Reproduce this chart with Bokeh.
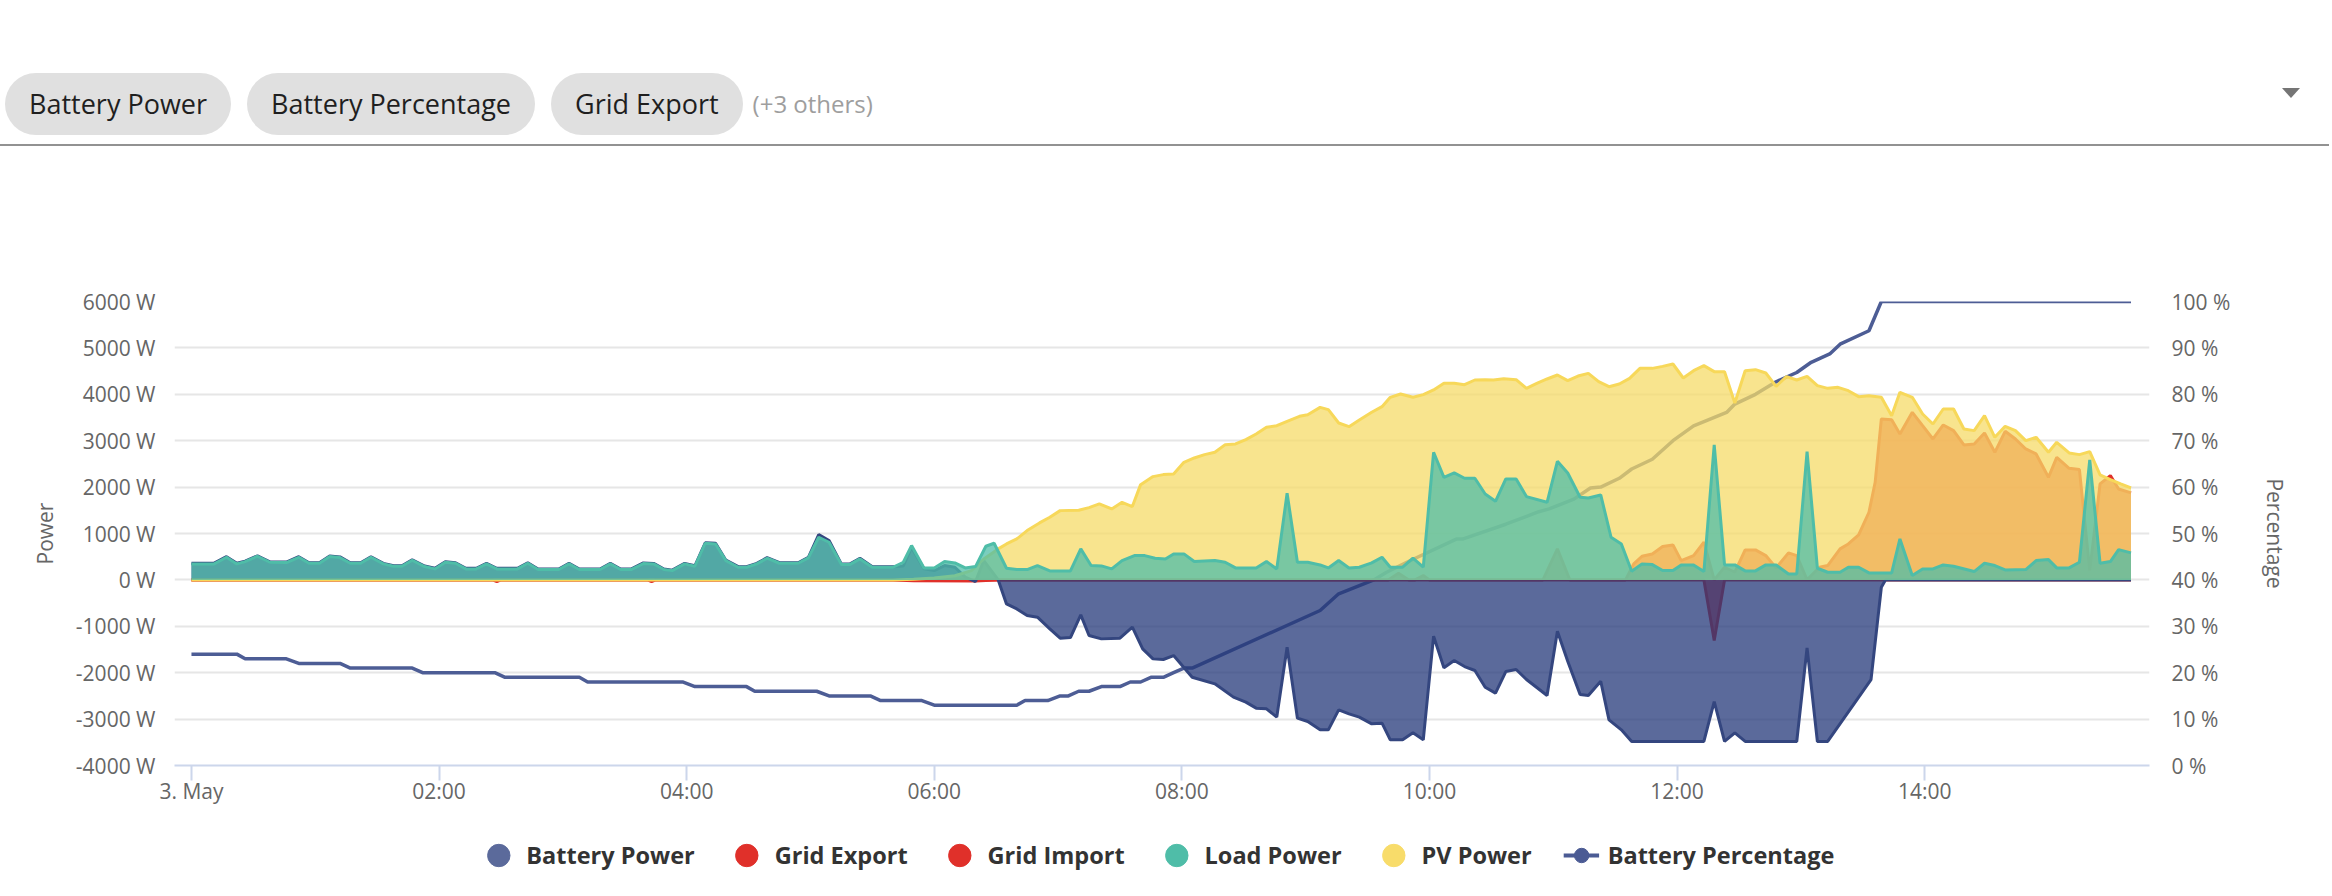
from bokeh.plotting import figure
from bokeh.models import Range1d, LinearAxis, FixedTicker, Legend, LegendItem, Div
from bokeh.layouts import column, row
from bokeh.embed import file_html
from bokeh.resources import INLINE

# ---------------- data (time = minutes after midnight, 3 May) ----------------
load_t = [0, 11, 17, 22, 26, 32, 38, 46, 52, 57, 62, 67, 72, 77, 82, 87, 93, 98, 102, 107, 113, 118, 123, 128,
          133, 138, 143, 148, 158, 163, 168, 178, 183, 188, 198, 203, 208, 213, 219, 224, 229, 233,
          239, 244, 249, 254, 259, 265, 269, 274, 279, 285, 294, 299, 304, 309, 315, 319, 324, 330, 340, 345,
          349, 355, 360, 365, 370, 375, 380, 385, 389, 395, 400, 405, 410, 416, 426, 431, 436, 441, 446, 451,
          457, 462, 467, 472, 476,
          481, 486, 496, 501, 506, 516, 521, 526, 531, 536, 541, 547, 551, 556, 561, 566, 572, 577, 581, 587,
          592, 597, 602, 607, 612, 617, 622, 627, 632, 637, 642, 647, 657, 662, 667, 673, 677, 683, 688, 693,
          698, 703, 708, 713, 718,
          722, 728, 733, 738, 743, 748, 753, 758, 763, 768, 774, 778, 783, 788, 793, 799, 803, 808, 813, 824,
          828, 834, 839, 844, 849, 854, 864, 869, 874, 879, 889, 894, 900, 904, 910, 915, 920, 925, 930, 934, 940]
load_w = [345, 345, 488, 345, 395, 510, 380, 373, 488, 359, 359, 503, 481, 359, 359, 488, 345, 294, 294, 424, 287, 237, 380, 359,
          237, 237, 345, 237, 237, 359, 223, 223, 345, 223, 223, 345, 223, 223, 352, 345, 223, 200,
          345, 294, 790, 775, 416, 273, 273, 345, 467, 359, 359, 474, 919, 811, 330, 330, 452, 273, 273, 380,
          740, 258, 258, 395, 366, 258, 287, 725, 790, 251, 223, 223, 309, 194, 194, 668, 309, 302, 237, 416,
          524, 524, 467, 452, 560,
          560, 395, 416, 380, 258, 258, 395, 237, 1867, 380, 380, 323, 258, 416, 258, 273, 366, 488, 273, 273,
          467, 273, 2750, 2211, 2305, 2190, 2190, 1852, 1694, 2175, 2175, 1795, 1673, 2556, 2305, 1781, 1766, 1831, 919, 775,
          187, 345, 330, 201, 201,
          323, 323, 180, 2908, 323, 323, 194, 194, 323, 323, 129, 129, 2764, 251, 165, 165, 273, 273, 151, 151,
          883, 93, 237, 237, 323, 294, 180, 359, 309, 215, 223, 416, 438, 258, 258, 380, 2585, 359, 395, 653, 582]

pv_t = [0, 340, 350, 360, 370, 378, 384, 391, 395, 400, 405, 411, 416, 421, 430, 435, 440, 446, 451, 456, 460, 466, 471, 476,
        481, 486, 491, 496, 501, 506, 511, 516, 521, 526, 531, 537, 541, 547, 551, 556, 561, 566, 572, 577,
        581, 586, 592, 597, 602, 607, 612, 617, 622, 627, 631, 636, 642, 647, 652, 657, 662, 667, 672, 677,
        682, 687, 692, 697, 702, 708, 713, 718,
        723, 728, 733, 738, 743, 748, 753, 758, 763, 768, 773, 778, 783, 788, 793, 798, 803, 808, 813, 819,
        824, 828, 834, 839, 844, 849, 854, 859, 864, 869, 874, 879, 884, 889, 894, 900, 904, 910, 915, 920,
        925, 930, 935, 940]
pv_w = [0, 0, 15, 40, 90, 200, 450, 668, 775, 883, 1063, 1228, 1350, 1493, 1500, 1558, 1637, 1529, 1673, 1580, 2053, 2226, 2269, 2280,
        2535, 2628, 2700, 2750, 2915, 2930, 3023, 3145, 3289, 3324, 3418, 3525, 3561, 3719, 3669, 3382, 3303, 3446, 3612, 3734,
        3935, 4006, 3935, 3992, 4093, 4236, 4236, 4207, 4308, 4315, 4308, 4337, 4315, 4128, 4236, 4330, 4416, 4294, 4394, 4452,
        4272, 4164, 4222, 4344, 4559, 4559, 4602, 4653,
        4351, 4509, 4617, 4488, 4488, 3813, 4509, 4531, 4459, 4172, 4380, 4308, 4387, 4186, 4128, 4150, 4078, 3949, 3970, 3935,
        3540, 4042, 3935, 3576, 3360, 3683, 3683, 3252, 3217, 3540, 3073, 3310, 3217, 3001, 3073, 2750, 2965, 2736, 2700, 2764,
        2262, 2161, 2068, 1982]

bat_t = [0, 11, 17, 22, 26, 32, 38, 46, 52, 57, 62, 67, 72, 77, 82, 87, 93, 98, 102, 107, 113, 118, 123, 128,
         133, 138, 143, 148, 158, 163, 168, 178, 183, 188, 198, 203, 208, 213, 219, 224, 229, 233,
         239, 244, 249, 254, 259, 265, 269, 274, 279, 285, 294, 299, 304, 309, 315, 319, 324, 330, 340, 345,
         349, 355, 360, 365, 370, 375, 380, 384, 391, 395, 400, 405, 410, 416, 421, 426, 431, 435, 441, 450,
         456, 461, 466, 471, 476,
         485, 496, 505, 511, 516, 521, 526, 531, 536, 541, 547, 551, 556, 561, 566, 572, 577, 581, 587, 592,
         597, 602, 607, 612, 617, 622, 627, 632, 637, 642, 647, 657, 662, 667, 673, 677, 683, 687, 693, 698,
         733, 738, 743, 748, 753, 778, 783, 788, 793, 814, 819, 821, 940]
bat_w = [360, 360, 500, 360, 405, 520, 390, 385, 500, 370, 370, 515, 495, 370, 370, 500, 355, 305, 305, 435, 300, 250, 390, 370,
         250, 250, 355, 250, 250, 370, 235, 235, 355, 235, 235, 355, 235, 235, 365, 355, 235, 210,
         355, 305, 800, 790, 425, 285, 285, 355, 480, 370, 370, 485, 976, 850, 340, 340, 465, 285, 285, 300,
         700, 240, 200, 309, 273, 60, -36, 416, 0, -517, -625, -768, -804, -1055, -1257, -1242, -754, -1199, -1271, -1257,
         -1020, -1486, -1702, -1716, -1630,
         -2097, -2240, -2527, -2635, -2764, -2779, -2958, -1450, -2980, -3052, -3231, -3231, -2800, -2886, -2958, -3102, -3088, -3446, -3446, -3296,
         -3446, -1213, -1895, -1738, -1867, -1953, -2312, -2441, -1975, -1931, -2147, -2491, -1106, -1752, -2470, -2491, -2183, -3016, -3231, -3482,
         -3482, -2621, -3482, -3296, -3482, -3482, -1465, -3482, -3482, -2147, -158, 0, 0]

exp_t = [0, 580, 585, 590, 593, 597, 600, 655, 662, 668, 695, 699, 703, 708, 713, 718, 722, 728, 733, 738,
         743, 748, 753, 758, 763, 768, 774, 778, 783, 789, 793, 799, 803, 808, 813, 816, 819, 824, 828, 834,
         839, 844, 849, 854, 859, 864, 869, 874, 879, 884, 889, 894, 900, 904, 910, 915, 920, 925, 930, 934, 940]
exp_w = [0, 0, 144, 0, 0, 93, 0, 0, 668, 0, 0, 345, 510, 560, 718, 754, 416, 524, 811, 0,
         273, 165, 646, 646, 524, 258, 582, 524, 0, 273, 309, 668, 775, 969, 1458, 2104, 3468, 3454, 3145, 3612,
         3324, 3037, 3339, 3217, 2908, 2930, 3166, 2750, 3202, 3037, 2822, 2714, 2211, 2642, 2405, 2377, 200, 2068, 2247, 1960, 1874]

imp_t = [0, 146, 148, 150, 221, 223, 225, 340, 350, 380, 390, 733, 738, 743, 940]
imp_w = [0, 0, -40, 0, 0, -40, 0, 0, -20, -25, 0, 0, -1307, 0, 0]

pct_t = [0, 22, 26, 46, 52, 72, 77, 107, 112, 147, 152, 188, 192, 238, 244, 269, 273, 303, 309, 329, 334, 354, 360, 400,
         404, 415, 421, 425, 430, 435, 441, 450, 455, 460, 465, 471, 476, 481, 485, 547, 556, 573, 579, 589,
         613, 616, 637, 653, 658, 670, 678, 683, 692, 698, 708, 718, 728, 744, 748, 758, 768, 778, 785, 794, 799, 813, 819, 940]
pct_v = [24, 24, 23, 23, 22, 22, 21, 21, 20, 20, 19, 19, 18, 18, 17, 17, 16, 16, 15, 15, 14, 14, 13, 13,
         14, 14, 15, 15, 16, 16, 17, 17, 18, 18, 19, 19, 20, 21, 21, 33.4, 37, 40, 41.6, 43.8,
         48.8, 48.8, 52, 54.7, 55.3, 57.4, 59.8, 60, 61.9, 63.9, 66, 70, 73.2, 76.1, 77.9, 80, 82.7, 84.7, 86.9, 88.7, 90.8, 93.7, 100, 100]

x_tick_hours = [0, 2, 4, 6, 8, 10, 12, 14]
x_tick_labels = ["3. May", "02:00", "04:00", "06:00", "08:00", "10:00", "12:00", "14:00"]
y_ticks = [-4000, -3000, -2000, -1000, 0, 1000, 2000, 3000, 4000, 5000, 6000]
y_tick_labels = ["%d W" % v for v in y_ticks]
pct_ticks = [0, 10, 20, 30, 40, 50, 60, 70, 80, 90, 100]
pct_tick_labels = ["%d %%" % v for v in pct_ticks]

area_names = ["Battery Power", "Grid Export", "Grid Import", "Load Power", "PV Power"]
area_legend_colors = ["#5b6a9b", "#e0302a", "#e0302a", "#4fbda8", "#f8dc6a"]
line_name = "Battery Percentage"
line_legend_color = "#4b5b94"
chips = ["Battery Power", "Battery Percentage", "Grid Export"]
chips_more = "(+3 others)"

FONT = "Open Sans"
NAN = float("nan")


def hours(ts):
    return [t / 60.0 for t in ts]


# ---------------- top chip bar ----------------
chip_html = "".join(
    '<div style="height:62px;line-height:62px;padding:0 24px;border-radius:31px;background:#e0e0e0;'
    'color:#1f1f1f;font-size:27px;white-space:nowrap;">%s</div>' % c for c in chips)
html = (
    '<div style="position:relative;width:2316px;height:152px;font-family:\'Open Sans\',sans-serif;">'
    '<div style="position:absolute;left:0px;top:68px;display:flex;gap:16px;align-items:center;">'
    + chip_html +
    '<div style="margin-left:-6px;color:#9e9e9e;font-size:24px;white-space:nowrap;">%s</div>' % chips_more +
    '</div>'
    '<div style="position:absolute;left:2277px;top:83px;width:0;height:0;border-left:9px solid transparent;'
    'border-right:9px solid transparent;border-top:10px solid #757575;"></div>'
    '<div style="position:absolute;left:-8px;top:139px;width:2332px;height:2px;background:#929292;"></div>'
    '</div>')
bar = Div(text=html, width=2316, height=152, styles={"overflow": "visible"})

# ---------------- chart ----------------
p = figure(width=2316, height=650, output_backend="svg", toolbar_location=None,
           x_range=Range1d(-0.137, 15.816), y_range=Range1d(-4000, 6000),
           min_border_left=174, min_border_right=167, min_border_top=139, min_border_bottom=47,
           background_fill_color="white", border_fill_color="white", outline_line_color=None)
p.extra_y_ranges = {"pct": Range1d(0, 100)}

# percentage line is drawn underneath the areas
p.line(hours(pct_t), pct_v, y_range_name="pct", line_color="#4d5d95", line_width=3.5)

# grid export
p.varea(x=hours(exp_t), y1=0, y2=exp_w, fill_color="#e0302a", fill_alpha=0.75)
p.line(hours(exp_t), exp_w, line_color="#e0302a", line_width=3)
# grid import
p.varea(x=hours(imp_t), y1=0, y2=imp_w, fill_color="#e0302a", fill_alpha=0.75)
p.line(hours(imp_t), imp_w, line_color="#e0302a", line_width=3)
# battery power
p.varea(x=hours(bat_t), y1=0, y2=bat_w, fill_color="#24387a", fill_alpha=0.75)
p.line(hours(bat_t), bat_w, line_color="#34467f", line_width=3)
# PV power
p.varea(x=hours(pv_t), y1=0, y2=pv_w, fill_color="#f6db68", fill_alpha=0.75)
p.line(hours(pv_t), pv_w, line_color="#f7d85a", line_width=3)
# load power
p.varea(x=hours(load_t), y1=0, y2=load_w, fill_color="#4fbda8", fill_alpha=0.75)
p.line(hours(load_t), load_w, line_color="#4fbda8", line_width=3)

# axes
xa = p.xaxis[0]
xa.ticker = FixedTicker(ticks=x_tick_hours)
xa.major_label_overrides = dict(zip(x_tick_hours, x_tick_labels))
xa.axis_line_color = "#ccd6eb"
xa.axis_line_width = 2
xa.major_tick_line_color = "#ccd6eb"
xa.major_tick_line_width = 2
xa.major_tick_out = 15
xa.major_tick_in = 0
xa.minor_tick_line_color = None
xa.minor_tick_out = 0
xa.major_label_standoff = -4
xa.major_label_text_font = FONT
xa.major_label_text_font_size = "21px"
xa.major_label_text_color = "#666666"

ya = p.yaxis[0]
ya.ticker = FixedTicker(ticks=y_ticks)
ya.major_label_overrides = dict(zip(y_ticks, y_tick_labels))
ya.axis_line_color = None
ya.major_tick_line_color = None
ya.minor_tick_line_color = None
ya.major_tick_out = 0
ya.minor_tick_out = 0
ya.major_label_standoff = 19
ya.major_label_text_font = FONT
ya.major_label_text_font_size = "21px"
ya.major_label_text_color = "#666666"
ya.axis_label = "Power"
ya.axis_label_text_font = FONT
ya.axis_label_text_font_style = "normal"
ya.axis_label_text_font_size = "21px"
ya.axis_label_text_color = "#666666"
ya.axis_label_standoff = 14

ra = LinearAxis(y_range_name="pct", ticker=FixedTicker(ticks=pct_ticks))
ra.major_label_overrides = dict(zip(pct_ticks, pct_tick_labels))
ra.axis_line_color = None
ra.major_tick_line_color = None
ra.minor_tick_line_color = None
ra.major_tick_out = 0
ra.minor_tick_out = 0
ra.major_label_standoff = 22
ra.major_label_text_font = FONT
ra.major_label_text_font_size = "21px"
ra.major_label_text_color = "#666666"
ra.axis_label = "Percentage"
ra.axis_label_text_font = FONT
ra.axis_label_text_font_style = "normal"
ra.axis_label_text_font_size = "21px"
ra.axis_label_text_color = "#666666"
ra.axis_label_standoff = 28
p.add_layout(ra, "right")

p.xgrid.grid_line_color = None
p.ygrid.ticker = FixedTicker(ticks=y_ticks)
p.ygrid.grid_line_color = "#e6e6e6"
p.ygrid.grid_line_width = 2


# ---------------- legend strip (symbols only; NaN points draw nothing) ----------------
def legend_strip(width, left, right):
    f = figure(width=width, height=78, output_backend="svg", toolbar_location=None,
               x_range=Range1d(0, 1), y_range=Range1d(0, 1),
               x_axis_location=None, y_axis_location=None,
               min_border_left=left, min_border_right=right, min_border_top=8, min_border_bottom=0,
               background_fill_color="white", border_fill_color="white", outline_line_color=None)
    f.grid.visible = False
    return f


lg1 = legend_strip(1542, 460, 0)
items1 = []
for name, col in zip(area_names, area_legend_colors):
    r = lg1.scatter(x=[NAN], y=[NAN], marker="circle", size=10, fill_color=col, line_color=col)
    items1.append(LegendItem(label=name, renderers=[r], index=0))
leg1 = Legend(items=items1, orientation="horizontal", location="center",
              glyph_width=56, glyph_height=56, label_standoff=0, spacing=24,
              padding=0, margin=0, border_line_color=None, background_fill_alpha=0,
              label_text_font=FONT, label_text_font_style="bold", label_text_font_size="23.5px",
              label_text_color="#333333")
lg1.add_layout(leg1, "center")

lg2 = legend_strip(774, 0, 461)
rl = lg2.line(x=[NAN], y=[NAN], line_color=line_legend_color, line_width=4)
rc = lg2.scatter(x=[NAN], y=[NAN], marker="circle", size=10, fill_color=line_legend_color, line_color=line_legend_color)
leg2 = Legend(items=[LegendItem(label=line_name, renderers=[rl, rc], index=0)], orientation="horizontal",
              location="center", glyph_width=36, glyph_height=56, label_standoff=9,
              padding=0, margin=0, border_line_color=None, background_fill_alpha=0,
              label_text_font=FONT, label_text_font_style="bold", label_text_font_size="23.5px",
              label_text_color="#333333")
lg2.add_layout(leg2, "center")

layout = column(bar, p, row(lg1, lg2, spacing=0), spacing=0)
open("out.html", "w").write(file_html(layout, INLINE))
